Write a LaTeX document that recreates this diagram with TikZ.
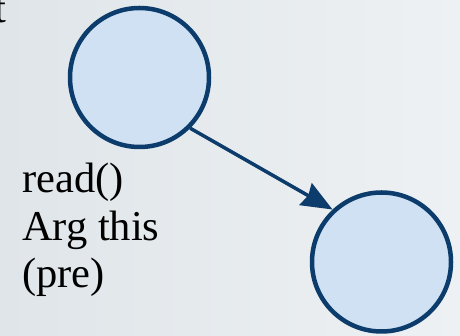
\documentclass[tikz,border=0pt]{standalone}
\usepackage{fontspec}
\setmainfont{Liberation Serif}
\usetikzlibrary{arrows.meta}
\definecolor{bgleft}{RGB}{223,229,233}
\definecolor{bgright}{RGB}{238,241,243}
\definecolor{nodefill}{RGB}{207,225,243}
\definecolor{nodeline}{RGB}{12,60,108}

\begin{document}
\begin{tikzpicture}[x=1pt,y=1pt,
  state/.style={circle, draw=nodeline, fill=nodefill, line width=4.5pt,
    minimum size=139pt, inner sep=0pt},
  flow/.style={draw=nodeline, line width=3.5pt,
    -{Stealth[length=31pt,width=25pt,inset=3pt]}},
  guardtext/.style={font=\fontsize{42.5}{47.5}\selectfont, text=black,
    inner sep=0pt, align=left}]
\useasboundingbox (0,0) rectangle (460,336);
\clip (0,0) rectangle (460,336);
% backdrop
\shade[left color=bgleft, right color=bgright] (0,0) rectangle (460,336);
% states
\node[state] (pre) at (139.5,258.5) {};
\node[state] (post) at (381.5,74) {};
% transition
\draw[flow] (pre.-45) -- (post.133);
% transition label (anchored on the baseline of its last line)
\node[guardtext, anchor=base west] (guard) at (22,48) {read()\\Arg this\\(pre)};
% label running off the left edge
\node[guardtext, anchor=base west] (cut) at (-5.5,313) {t};
\end{tikzpicture}
\end{document}
